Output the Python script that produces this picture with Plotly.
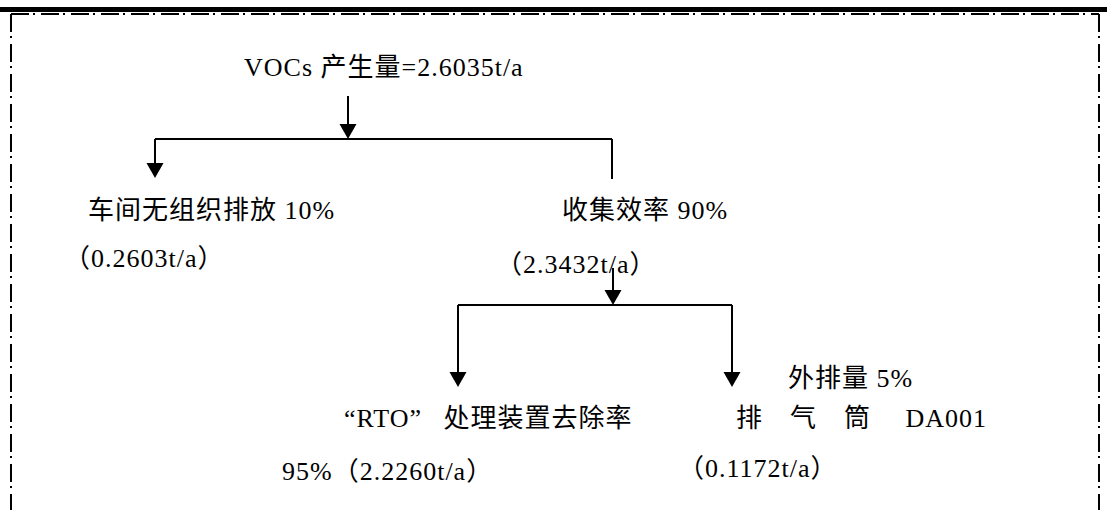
import plotly.graph_objects as go

# ---- data ----
total_label = "VOCs 产生量"
total_amount = 2.6035
stage_names = ["车间无组织排放", "收集效率", "“RTO”处理装置去除率", "外排量"]
stage_percents = [10, 90, 95, 5]
stage_amounts = [0.2603, 2.3432, 2.2260, 0.1172]
stack_label = "排　气　筒　 DA001"

W, H = 1107, 510
FONT = dict(family="'Liberation Serif', 'Times New Roman', 'Noto Sans CJK SC', serif",
            size=26, color="black")

fig = go.Figure()

def txt(x, y, s, ls=1):
    fig.add_annotation(x=x, y=y, xref="x", yref="y", text=f'<span style="letter-spacing:{ls}px">{s}</span>',
                       showarrow=False, xanchor="left", yanchor="middle", font=FONT)

def line(x0, y0, x1, y1, w=2, dash="solid"):
    fig.add_shape(type="line", x0=x0, y0=y0, x1=x1, y1=y1, xref="x", yref="y",
                  line=dict(color="black", width=w, dash=dash))

def head(x, ytip, hw=8.5, h=15):
    fig.add_shape(type="path", xref="x", yref="y",
                  path=f"M {x-hw} {ytip-h} L {x+hw} {ytip-h} L {x} {ytip} Z",
                  fillcolor="black", line=dict(color="black", width=0))

# frame
fig.add_shape(type="rect", x0=0, x1=W, y0=7, y1=12, xref="x", yref="y",
              fillcolor="black", line=dict(width=0))
dd = "18px,4px,2px,6px"
line(11, 14, 1099, 14, w=2, dash=dd)
line(11, 14, 11, H, w=2, dash=dd)
line(1099, 14, 1099, H, w=2, dash=dd)

# texts
txt(242, 67, f"{total_label}={total_amount:.4f}t/a")
txt(86, 210, f"{stage_names[0]} {stage_percents[0]}%")
txt(62, 258, f"（{stage_amounts[0]:.4f}t/a）")
txt(560, 210, f"{stage_names[1]} {stage_percents[1]}%")
txt(494, 264, f"（{stage_amounts[1]:.4f}t/a）")
txt(786, 378, f"{stage_names[3]} {stage_percents[3]}%")
txt(342, 418, stage_names[2].replace("”", "”\u2002\u00a0"))
txt(734, 418, stack_label)
txt(280, 471, f"{stage_percents[2]}%（{stage_amounts[2]:.4f}t/a）")
txt(676, 468, f"（{stage_amounts[3]:.4f}t/a）")

# connectors
line(348, 96, 348, 128)
head(348, 139)
line(155, 139, 612, 139)
line(155, 139, 155, 166)
head(155, 178)
line(612, 139, 612, 179)

line(613, 268, 613, 294)
head(613, 305)
line(458, 305, 732, 305)
line(458, 305, 458, 375)
head(458, 387)
line(732, 305, 732, 375)
head(732, 387)

fig.update_xaxes(range=[0, W], visible=False, fixedrange=True)
fig.update_yaxes(range=[H, 0], visible=False, fixedrange=True)
fig.update_layout(width=W, height=H, autosize=False,
                  margin=dict(l=0, r=0, t=0, b=0),
                  paper_bgcolor="white", plot_bgcolor="white", showlegend=False)

fig.write_html("out.html", config={"displayModeBar": False, "staticPlot": True},
               post_script="document.body.style.margin='0';document.body.style.padding='0';")
